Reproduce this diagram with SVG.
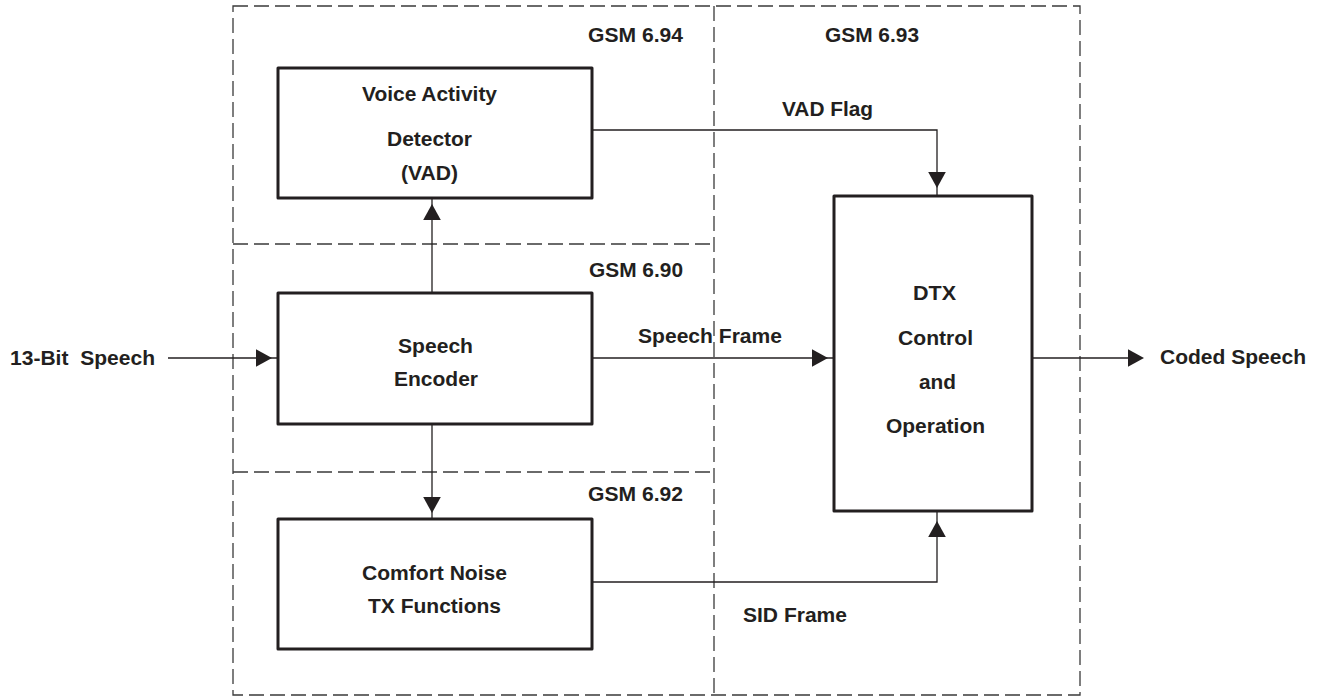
<svg xmlns="http://www.w3.org/2000/svg" xmlns:xlink="http://www.w3.org/1999/xlink" width="1319" height="698" viewBox="0 0 1319 698">
<style>
  text { font-family: "Liberation Sans", Arial, sans-serif; font-weight: bold; font-size: 20px; fill: #231f20; }
  .region { fill: none; stroke: #3a3a3a; stroke-width: 1.3; stroke-dasharray: 15 6; }
  .box { fill: #ffffff; stroke: #231f20; stroke-width: 3; stroke-linejoin: round; }
  .conn { fill: none; stroke: #231f20; stroke-width: 1.3; }
  .ah { fill: #231f20; }
</style>
<defs>
  <path id="ah" class="ah" d="M0,0 L-16,-8.8 L-16,8.8 Z"/>
</defs>
<rect width="1319" height="698" fill="#ffffff"/>

<g id="regions">
  <rect class="region" x="233" y="6" width="847" height="689"/>
  <line class="region" x1="714" y1="6" x2="714" y2="695"/>
  <line class="region" x1="233" y1="244" x2="714" y2="244"/>
  <line class="region" x1="233" y1="472" x2="714" y2="472"/>
  <text x="588" y="42" textLength="95" lengthAdjust="spacingAndGlyphs">GSM 6.94</text>
  <text x="825" y="42" textLength="94" lengthAdjust="spacingAndGlyphs">GSM 6.93</text>
  <text x="589" y="277" textLength="94" lengthAdjust="spacingAndGlyphs">GSM 6.90</text>
  <text x="588" y="501" textLength="95" lengthAdjust="spacingAndGlyphs">GSM 6.92</text>
</g>

<g id="connectors">
  <line class="conn" x1="168" y1="358" x2="278" y2="358"/>
  <use xlink:href="#ah" transform="translate(272,358)"/>
  <line class="conn" x1="432" y1="293" x2="432" y2="198"/>
  <use xlink:href="#ah" transform="translate(432,204) rotate(-90)"/>
  <line class="conn" x1="432" y1="424" x2="432" y2="519"/>
  <use xlink:href="#ah" transform="translate(432,513) rotate(90)"/>
  <polyline class="conn" points="592,130 937,130 937,196"/>
  <use xlink:href="#ah" transform="translate(937,188) rotate(90)"/>
  <line class="conn" x1="592" y1="358" x2="834" y2="358"/>
  <use xlink:href="#ah" transform="translate(828,358)"/>
  <polyline class="conn" points="592,582 937,582 937,511"/>
  <use xlink:href="#ah" transform="translate(937,521) rotate(-90)"/>
  <line class="conn" x1="1032" y1="358" x2="1130" y2="358"/>
  <use xlink:href="#ah" transform="translate(1144,358)"/>
  <text x="10" y="365" textLength="145" lengthAdjust="spacingAndGlyphs" xml:space="preserve">13-Bit  Speech</text>
  <text x="782" y="116" textLength="91" lengthAdjust="spacingAndGlyphs">VAD Flag</text>
  <text x="638" y="343" textLength="144" lengthAdjust="spacingAndGlyphs">Speech Frame</text>
  <text x="743" y="622" textLength="104" lengthAdjust="spacingAndGlyphs">SID Frame</text>
  <text x="1160" y="364" textLength="146" lengthAdjust="spacingAndGlyphs">Coded Speech</text>
</g>

<g id="vad">
  <rect class="box" x="278" y="68" width="314" height="130"/>
  <text x="362" y="101" textLength="135" lengthAdjust="spacingAndGlyphs">Voice Activity</text>
  <text x="387" y="146" textLength="85" lengthAdjust="spacingAndGlyphs">Detector</text>
  <text x="401" y="180" textLength="57" lengthAdjust="spacingAndGlyphs">(VAD)</text>
</g>

<g id="speech-encoder">
  <rect class="box" x="278" y="293" width="314" height="131"/>
  <text x="398" y="353" textLength="75" lengthAdjust="spacingAndGlyphs">Speech</text>
  <text x="394" y="386" textLength="84" lengthAdjust="spacingAndGlyphs">Encoder</text>
</g>

<g id="comfort-noise">
  <rect class="box" x="278" y="519" width="314" height="130"/>
  <text x="362" y="580" textLength="145" lengthAdjust="spacingAndGlyphs">Comfort Noise</text>
  <text x="368" y="613" textLength="133" lengthAdjust="spacingAndGlyphs">TX Functions</text>
</g>

<g id="dtx">
  <rect class="box" x="834" y="196" width="198" height="315"/>
  <text x="913" y="300" textLength="43" lengthAdjust="spacingAndGlyphs">DTX</text>
  <text x="898" y="345" textLength="75" lengthAdjust="spacingAndGlyphs">Control</text>
  <text x="919" y="389" textLength="37" lengthAdjust="spacingAndGlyphs">and</text>
  <text x="886" y="433" textLength="99" lengthAdjust="spacingAndGlyphs">Operation</text>
</g>
</svg>
